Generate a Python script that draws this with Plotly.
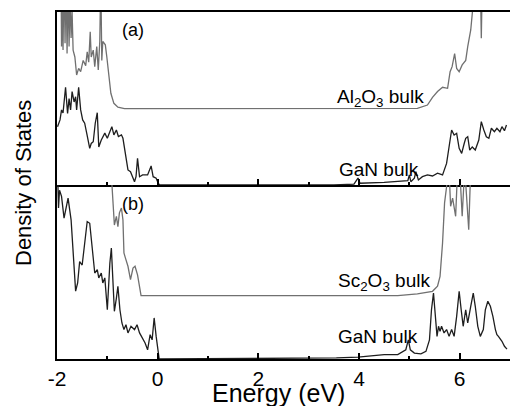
import plotly.graph_objects as go

# ---------------- data ----------------
# Panel (a): Al2O3 bulk DOS (grey); values above 100 run off the top of the panel
al2o3_E = [-1.92, -1.91, -1.90, -1.88, -1.86, -1.84, -1.82, -1.80, -1.78, -1.76, -1.74, -1.72, -1.70,
           -1.68, -1.645, -1.61, -1.57, -1.53, -1.48, -1.43, -1.40, -1.37, -1.34, -1.32, -1.28,
           -1.25, -1.21, -1.18, -1.15, -1.13, -1.11, -1.09, -1.04, -1.01, -0.97, -0.93, -0.87,
           -0.79, -0.66, 4.77, 5.16, 5.36, 5.46, 5.56, 5.66, 5.76, 5.81, 5.85, 5.90, 5.94, 5.99,
           6.05, 6.12, 6.16, 6.22, 6.26, 6.30, 6.41, 6.43, 6.45, 6.50, 6.60, 7.00]
al2o3_D = [120, 80, 120, 78, 125, 82, 120, 76, 115, 80, 110, 85, 100,
           78, 74, 63.6, 67.4, 65.5, 72, 69, 77, 71, 88.6, 74, 78,
           68.4, 80, 66.5, 83, 120, 72, 83, 81, 74, 62.6, 53, 47.2,
           45, 44.2, 44.2, 44.3, 46.2, 50.7, 54, 56.5, 55.9, 65.5, 68.4, 76, 67.4, 65.5,
           69.4, 72, 80, 89.6, 102, 120, 120, 84.8, 120, 120, 130, 130]

# Panel (a): GaN bulk DOS (black)
gan_a_E = [-1.99, -1.94, -1.91, -1.88, -1.83, -1.79, -1.76, -1.73, -1.70, -1.66, -1.63, -1.61,
           -1.57, -1.53, -1.49, -1.45, -1.41, -1.35, -1.32, -1.28, -1.24, -1.20, -1.17, -1.12,
           -1.05, -1.00, -0.95, -0.91, -0.87, -0.82, -0.78, -0.72, -0.69, -0.64, -0.59, -0.54,
           -0.46, -0.43, -0.40, -0.36, -0.30, -0.20, -0.13, -0.09, -0.03, 0.01, 0.04, 3.50,
           3.90, 3.98, 4.02, 4.50, 4.77, 4.97, 5.00, 5.03, 5.10, 5.13, 5.18, 5.26, 5.36, 5.46,
           5.56, 5.66, 5.74, 5.79, 5.84, 5.89, 5.94, 5.99, 6.04, 6.09, 6.12, 6.16, 6.20, 6.25,
           6.31, 6.38, 6.43, 6.48, 6.53, 6.58, 6.63, 6.69, 6.74, 6.80, 6.84, 6.89, 6.93]
gan_a_D = [33.7, 37.6, 43.4, 41.6, 56.5, 41.4, 50, 43.4, 54, 48, 51, 43.4,
           56.5, 43.4, 37.6, 35.7, 30, 21.2, 24, 25, 35.7, 41.8, 22, 26,
           30, 27, 30.8, 33.7, 29, 31.8, 28, 29, 27, 18.3, 8.7, 7.7,
           1.9, 4.8, 15.4, 4.8, 5.8, 5.8, 11, 4.8, 3.9, 1, 0, 0,
           0.5, 4, 1, 1.5, 1.9, 2.5, 5.8, 1.9, 3.9, 7.7, 2.9, 4.8, 5.8, 5.2,
           6.8, 5.8, 12.5, 22, 31.8, 28.9, 29.9, 21.2, 18.3, 24, 27, 27.9, 20.2, 22,
           20.2, 26, 36.6, 31.8, 27.9, 27, 32.8, 30.8, 32.8, 30.8, 33.7, 31.4, 34.7]

# Panel (b): Sc2O3 bulk DOS (grey)
sc2o3_E = [-0.95, -0.91, -0.89, -0.86, -0.82, -0.79, -0.76, -0.72, -0.69, -0.67, -0.64, -0.59,
           -0.54, -0.49, -0.45, -0.40, -0.33, 4.77, 5.16, 5.46, 5.56, 5.61, 5.66, 5.70, 5.74,
           5.78, 5.82, 5.86, 5.92, 5.96, 6.00, 6.05, 6.10, 6.15, 6.18, 6.22, 6.26, 7.00]
sc2o3_D = [120, 99, 89.7, 77, 82, 76, 84, 86.8, 80, 61, 58, 53.3,
           45.6, 52.3, 53.3, 48.4, 36.4, 36.4, 37.4, 38.9, 41.8, 47.5, 66.7, 89.7, 99,
           115, 87.8, 92.5, 82, 110, 110, 82, 110, 87.8, 74.3, 110, 120, 120]

# Panel (b): GaN bulk DOS (black)
gan_b_E = [-1.99, -1.97, -1.95, -1.91, -1.86, -1.82, -1.78, -1.72, -1.68, -1.63, -1.59, -1.55,
           -1.50, -1.45, -1.40, -1.35, -1.30, -1.25, -1.20, -1.17, -1.12, -1.09, -1.05, -1.00,
           -0.95, -0.92, -0.89, -0.86, -0.82, -0.79, -0.75, -0.71, -0.67, -0.63, -0.59, -0.53,
           -0.46, -0.41, -0.36, -0.32, -0.25, -0.20, -0.15, -0.11, -0.07, -0.03, 0.01, 0.03,
           3.55, 3.98, 4.50, 4.77, 4.93, 4.98, 5.02, 5.10, 5.23, 5.33, 5.40, 5.44, 5.48, 5.51,
           5.55, 5.58, 5.61, 5.64, 5.69, 5.74, 5.79, 5.84, 5.89, 5.94, 5.99, 6.03, 6.07, 6.12,
           6.16, 6.22, 6.27, 6.31, 6.36, 6.41, 6.47, 6.51, 6.56, 6.61, 6.66, 6.71, 6.74, 6.77,
           6.84, 6.89, 6.94]
gan_b_D = [110, 86.8, 97, 93.5, 81, 87.7, 92.5, 80, 59, 39, 43.7, 56,
           54, 66.7, 79, 78, 64.8, 49.4, 51.3, 46.6, 49.4, 43.7, 46.6, 28.3,
           55, 63.8, 45.6, 27.4, 35, 41.8, 28.3, 20.7, 16.9, 19.7, 15, 18.8,
           16.9, 19.7, 15, 13, 9.2, 5.3, 14, 11, 23.6, 13, 1.5, 0,
           0.6, 1.1, 2.5, 2.5, 5.3, 11, 5.3, 3.4, 3, 4.4, 11, 28.3, 37.9, 28.3,
           13, 18.8, 15.9, 18.8, 15, 16.9, 13, 16.9, 13, 24.5, 38.9, 28.3, 18.8, 28.3,
           20.7, 30.3, 37.9, 30.3, 18.8, 13, 16.9, 28.3, 33.2, 30.3, 24.5, 16.9, 14, 13,
           10.2, 7.3, 5.7]

x_ticks = [-2, 0, 2, 4, 6]
x_tick_labels = ["-2", "0", "2", "4", "6"]

GREY = "#707070"
BLACK = "#1e1e1e"
FONT = "Liberation Sans, Arial, sans-serif"

fig = go.Figure()
fig.add_trace(go.Scatter(x=al2o3_E, y=al2o3_D, mode="lines", line=dict(color=GREY, width=1.3),
                         xaxis="x", yaxis="y", showlegend=False))
fig.add_trace(go.Scatter(x=gan_a_E, y=gan_a_D, mode="lines", line=dict(color=BLACK, width=1.3),
                         xaxis="x", yaxis="y", showlegend=False))
fig.add_trace(go.Scatter(x=sc2o3_E, y=sc2o3_D, mode="lines", line=dict(color=GREY, width=1.3),
                         xaxis="x2", yaxis="y2", showlegend=False))
fig.add_trace(go.Scatter(x=gan_b_E, y=gan_b_D, mode="lines", line=dict(color=BLACK, width=1.3),
                         xaxis="x2", yaxis="y2", showlegend=False))

split = 174 / 347
xcommon = dict(range=[-2, 7], showgrid=False, zeroline=False, showline=True, linecolor="black",
               linewidth=2, ticks="inside", ticklen=6, tickwidth=1.5, tickcolor="black",
               tickvals=x_ticks, ticktext=x_tick_labels,
               minor=dict(dtick=1, tick0=-1, ticks="inside", ticklen=3, tickwidth=1.5, tickcolor="black"),
               tickfont=dict(family=FONT, size=21, color="black"))
ycommon = dict(range=[0, 100], showgrid=False, zeroline=False, showline=True, linecolor="black",
               linewidth=2, mirror=False, ticks="", showticklabels=False)

fig.update_layout(
    width=510, height=406,
    margin=dict(l=57, r=0, t=12, b=47),
    paper_bgcolor="white", plot_bgcolor="white",
    xaxis=dict(**xcommon, anchor="y", mirror=True, showticklabels=False),
    yaxis=dict(**ycommon, domain=[split, 1], anchor="x"),
    xaxis2=dict(**xcommon, anchor="y2", mirror=False, showticklabels=True),
    yaxis2=dict(**ycommon, domain=[0, split], anchor="x2"),
)

lab = dict(family=FONT, size=19, color="black")
ann = [
    dict(text="(a)", x=-0.50, y=89.6, xref="x", yref="y", font=dict(family=FONT, size=18, color="black")),
    dict(text="(b)", x=-0.50, y=89, xref="x2", yref="y2", font=dict(family=FONT, size=18, color="black")),
    dict(text="Al<sub>2</sub>O<sub>3</sub> bulk", x=4.43, y=50.5, xref="x", yref="y", font=lab),
    dict(text="GaN bulk", x=4.39, y=8.7, xref="x", yref="y", font=lab),
    dict(text="Sc<sub>2</sub>O<sub>3</sub> bulk", x=4.49, y=44, xref="x2", yref="y2", font=lab),
    dict(text="GaN bulk", x=4.37, y=13.2, xref="x2", yref="y2", font=lab),
    dict(text="Energy (eV)", x=(278 - 57) / 453, y=-(393 - 359) / 347, xref="paper", yref="paper",
         font=dict(family=FONT, size=25, color="black")),
    dict(text="Density of States", x=-(57 - 23) / 453, y=(359 - 183) / 347, xref="paper", yref="paper",
         textangle=-90, font=dict(family=FONT, size=22, color="black")),
]
for a in ann:
    a.update(showarrow=False, xanchor="center", yanchor="middle")
fig.update_layout(annotations=ann)

fig.write_html("out.html", config={"displayModeBar": False},
               post_script="document.body.style.margin='0';document.body.style.overflow='hidden';")
